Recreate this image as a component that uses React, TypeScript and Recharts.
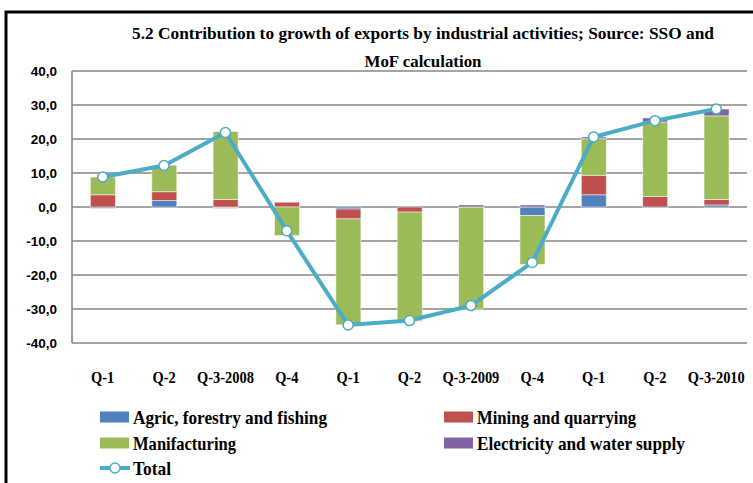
import { Bar, CartesianGrid, ComposedChart, Line, XAxis, YAxis } from "recharts";

const quarters = ["Q-1", "Q-2", "Q-3-2008", "Q-4", "Q-1", "Q-2", "Q-3-2009", "Q-4", "Q-1", "Q-2", "Q-3-2010"];
const agric = [-0.4, 1.9, -0.2, 0.0, -0.6, 0.0, 0.0, -2.5, 3.6, -0.3, 0.6];
const mining = [3.6, 2.6, 2.2, 1.4, -2.9, -1.5, 0.0, 0.0, 5.7, 3.1, 1.6];
const manuf = [5.2, 7.8, 20.0, -8.4, -31.1, -32.0, -30.0, -14.4, 10.8, 21.9, 24.6];
const elec = [0.0, 0.0, -0.2, 0.0, 0.0, -0.1, 0.6, 0.6, 0.5, 1.2, 2.0];
const total = [8.8, 12.2, 21.9, -7.0, -34.7, -33.4, -29.0, -16.3, 20.6, 25.4, 28.8];
const yTicks = [-40, -30, -20, -10, 0, 10, 20, 30, 40];

const C = {
  agric: "#4F81BD",
  mining: "#C0504D",
  manuf: "#9BBB59",
  elec: "#8064A2",
  total: "#4BACC6",
  grid: "#868686",
};

const data = quarters.map((q, i) => ({
  q: q + "|" + i,
  agric: agric[i],
  mining: mining[i],
  manuf: manuf[i],
  elec: elec[i],
  total: total[i],
}));

const serif = "'Liberation Serif', 'Times New Roman', serif";

const XTick = (props: any) => {
  const { x, y, payload } = props;
  const label = String(payload.value).split("|")[0];
  return (
    <text
      x={x}
      y={y}
      dy="0.71em"
      textAnchor="middle"
      fontFamily={serif}
      fontWeight="bold"
      fontSize={17}
      fill="#000"
      transform={`translate(${x} 0) scale(0.85 1) translate(${-x} 0)`}
    >
      {label}
    </text>
  );
};

const legendItems = [
  { name: "Agric, forestry and fishing", color: C.agric, x: 100, y: 417, w: 194 },
  { name: "Mining and quarrying", color: C.mining, x: 444, y: 417, w: 159 },
  { name: "Manifacturing", color: C.manuf, x: 100, y: 443, w: 103 },
  { name: "Electricity and water supply", color: C.elec, x: 444, y: 443, w: 208 },
];

export default function App() {
  return (
    <div style={{ position: "absolute", left: 0, top: 0, width: 753, height: 483, background: "#fff" }}>
      <ComposedChart
        width={753}
        height={483}
        data={data}
        stackOffset="sign"
        barCategoryGap="30%"
        margin={{ top: 71, right: 6, bottom: 0, left: 0 }}
      >
        <CartesianGrid stroke={C.grid} strokeWidth={1.6} vertical={false} />
        <XAxis
          dataKey="q"
          height={140}
          axisLine={false}
          tickLine={false}
          tickSize={0}
          tickMargin={28}
          interval={0}
          tick={<XTick />}
        />
        <YAxis
          width={72}
          domain={[-40, 40]}
          ticks={yTicks}
          tickLine={false}
          tickSize={0}
          tickMargin={15}
          axisLine={{ stroke: C.grid, strokeWidth: 1.6 }}
          tick={{ fontSize: 13.5, fontWeight: "bold", fill: "#000", fontFamily: "'Liberation Sans', Arial, sans-serif" }}
          tickFormatter={(v: number) => v.toFixed(1).replace(".", ",")}
        />
        <Bar dataKey="agric" stackId="a" fill={C.agric} stroke="rgba(255,255,255,0.5)" isAnimationActive={false} />
        <Bar dataKey="mining" stackId="a" fill={C.mining} stroke="rgba(255,255,255,0.5)" isAnimationActive={false} />
        <Bar dataKey="manuf" stackId="a" fill={C.manuf} stroke="rgba(255,255,255,0.5)" isAnimationActive={false} />
        <Bar dataKey="elec" stackId="a" fill={C.elec} stroke="rgba(255,255,255,0.5)" isAnimationActive={false} />
        <Line
          type="linear"
          dataKey="total"
          stroke={C.total}
          strokeWidth={4}
          dot={{ r: 5, fill: "#fff", stroke: C.total, strokeWidth: 1.5 }}
          isAnimationActive={false}
        />
      </ComposedChart>
      <svg
        width={753}
        height={483}
        style={{ position: "absolute", left: 0, top: 0, pointerEvents: "none" }}
      >
        <rect x={6} y={12} width={800} height={500} fill="none" stroke="#000" strokeWidth={3} />
        <g fontFamily={serif} fontWeight="bold" fontSize={17.5} fill="#000" textAnchor="middle">
          <text x={423} y={39} textLength={582} lengthAdjust="spacingAndGlyphs">
            5.2  Contribution to growth of exports by industrial activities; Source: SSO and
          </text>
          <text x={423} y={67} textLength={117} lengthAdjust="spacingAndGlyphs">
            MoF calculation
          </text>
        </g>
        <g fontFamily={serif} fontWeight="bold" fontSize={19.5} fill="#000">
          {legendItems.map((it) => (
            <g key={it.name}>
              <rect x={it.x} y={it.y - 5.5} width={29} height={11} fill={it.color} />
              <text x={it.x + 33} y={it.y + 6.5} textLength={it.w} lengthAdjust="spacingAndGlyphs">
                {it.name}
              </text>
            </g>
          ))}
          <line x1={100} y1={468} x2={130} y2={468} stroke={C.total} strokeWidth={4} />
          <circle cx={115} cy={468} r={5} fill="#fff" stroke={C.total} strokeWidth={1.5} />
          <text x={133} y={474.5} textLength={38} lengthAdjust="spacingAndGlyphs">
            Total
          </text>
        </g>
      </svg>
    </div>
  );
}
